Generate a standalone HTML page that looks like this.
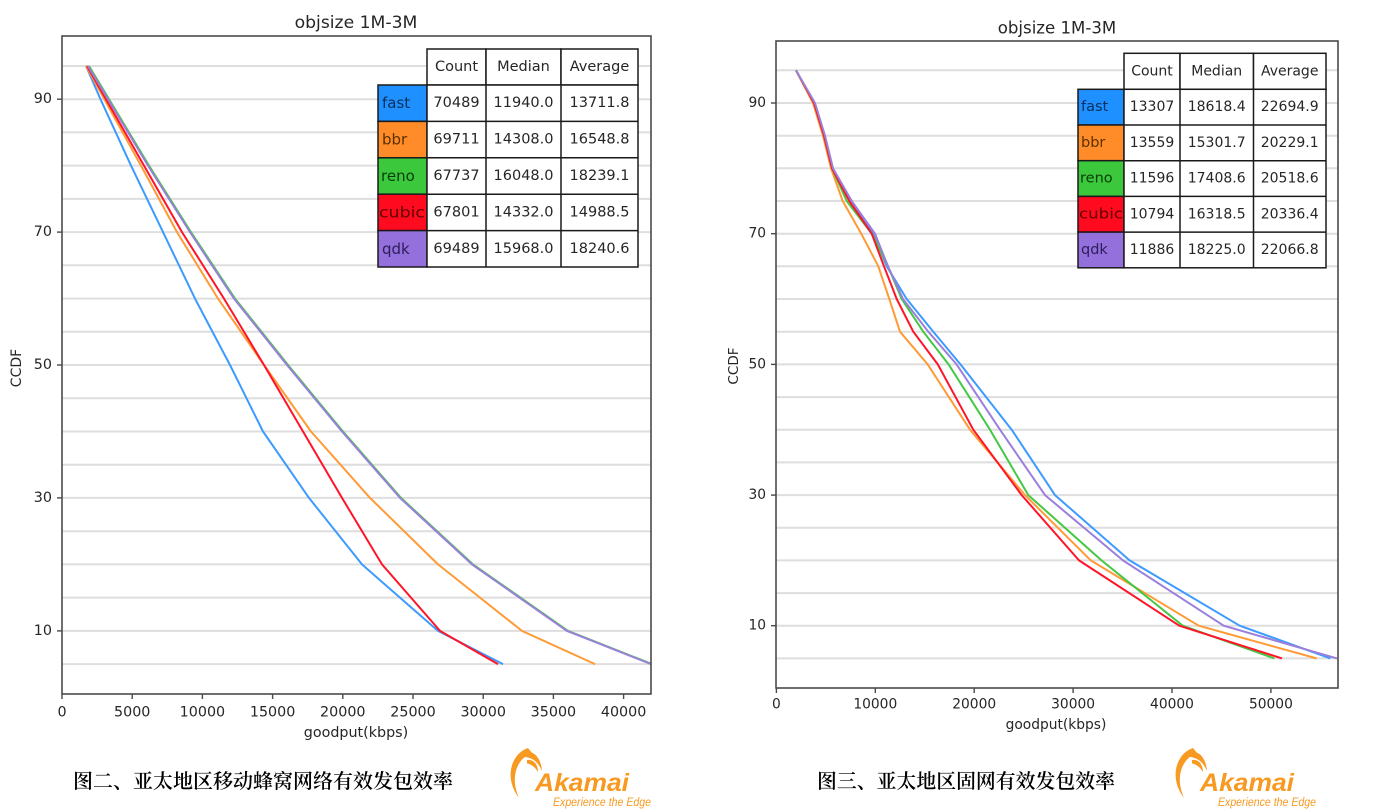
<!DOCTYPE html>
<html>
<head>
<meta charset="utf-8">
<style>
  html,body{margin:0;padding:0;background:#fff;}
  svg{display:block;}
  .t{font-family:"DejaVu Sans","Liberation Sans",sans-serif;fill:#262626;}
  .cap{font-family:"Liberation Serif","Noto Serif CJK SC","Noto Sans CJK SC",serif;fill:#000;}
  .ak{font-family:"Liberation Sans",sans-serif;font-style:italic;fill:#f89a22;}
</style>
</head>
<body>
<svg width="1377" height="809" viewBox="0 0 1377 809" xmlns="http://www.w3.org/2000/svg">
  <defs>
    <clipPath id="cl"><rect x="62" y="36" width="589" height="658"/></clipPath>
    <clipPath id="cr"><rect x="776" y="41" width="562" height="647"/></clipPath>
  </defs>
  <rect width="1377" height="809" fill="#fff"/>

  <!-- ================= LEFT CHART ================= -->
  <text class="t" x="356" y="23" font-size="17.2" text-anchor="middle" dominant-baseline="central">objsize 1M-3M</text>
  <g stroke="#dedede" stroke-width="2">
    <line x1="62" x2="651" y1="664.1" y2="664.1"/><line x1="62" x2="651" y1="630.9" y2="630.9"/>
    <line x1="62" x2="651" y1="597.6" y2="597.6"/><line x1="62" x2="651" y1="564.4" y2="564.4"/>
    <line x1="62" x2="651" y1="531.2" y2="531.2"/><line x1="62" x2="651" y1="497.9" y2="497.9"/>
    <line x1="62" x2="651" y1="464.7" y2="464.7"/><line x1="62" x2="651" y1="431.5" y2="431.5"/>
    <line x1="62" x2="651" y1="398.3" y2="398.3"/><line x1="62" x2="651" y1="365.0" y2="365.0"/>
    <line x1="62" x2="651" y1="331.8" y2="331.8"/><line x1="62" x2="651" y1="298.6" y2="298.6"/>
    <line x1="62" x2="651" y1="265.3" y2="265.3"/><line x1="62" x2="651" y1="232.1" y2="232.1"/>
    <line x1="62" x2="651" y1="198.9" y2="198.9"/><line x1="62" x2="651" y1="165.6" y2="165.6"/>
    <line x1="62" x2="651" y1="132.4" y2="132.4"/><line x1="62" x2="651" y1="99.2" y2="99.2"/>
    <line x1="62" x2="651" y1="66.0" y2="66.0"/>
  </g>
  <g clip-path="url(#cl)" fill="none" stroke-width="2" stroke-linejoin="round">
    <polyline stroke="#3d9bff" points="86,66 100.5,99.2 131,165.6 163,232.1 195,298.6 230,365 263,431.5 309,497.9 362,564.4 438,630.9 503,664.1"/>
    <polyline stroke="#ff9a35" points="86,66 104.3,99.2 141,165.6 177,232.1 218,298.6 264,365 311,431.5 370,497.9 438,564.4 522,630.9 595,664.1"/>
    <polyline stroke="#44c844" points="89,66 109,99.2 149,165.6 191,232.1 235,298.6 288,365 343,431.5 401,497.9 473,564.4 568,630.9 652,664.1"/>
    <polyline stroke="#ff1428" points="87,66 106,99.2 144,165.6 182,232.1 224,298.6 264,365 303,431.5 342,497.9 382,564.4 440,630.9 498,664.1"/>
    <polyline stroke="#9a7fdc" points="88,66 108,99.2 148,165.6 190,232.1 234,298.6 287,365 342,431.5 400,497.9 472,564.4 567,630.9 651,664.1"/>
  </g>
  <!-- left table -->
  <g stroke="#1a1a1a" stroke-width="1.5">
    <rect x="427" y="49" width="59" height="36" fill="#fff"/>
    <rect x="486" y="49" width="75" height="36" fill="#fff"/>
    <rect x="561" y="49" width="77" height="36" fill="#fff"/>
    <rect x="378" y="85" width="49" height="36.4" fill="#1e90ff"/>
    <rect x="378" y="121.4" width="49" height="36.4" fill="#ff8c28"/>
    <rect x="378" y="157.8" width="49" height="36.4" fill="#3cc83c"/>
    <rect x="378" y="194.2" width="49" height="36.4" fill="#ff0a1e"/>
    <rect x="378" y="230.6" width="49" height="36.4" fill="#9370db"/>
    <rect x="427" y="85" width="211" height="182" fill="#fff"/>
    <line x1="486" x2="486" y1="85" y2="267"/><line x1="561" x2="561" y1="85" y2="267"/>
    <line x1="427" x2="638" y1="121.4" y2="121.4"/><line x1="427" x2="638" y1="157.8" y2="157.8"/>
    <line x1="427" x2="638" y1="194.2" y2="194.2"/><line x1="427" x2="638" y1="230.6" y2="230.6"/>
  </g>
  <g class="t" font-size="14.5" text-anchor="middle" dominant-baseline="central">
    <text x="456.5" y="67">Count</text><text x="523.5" y="67">Median</text><text x="599.5" y="67">Average</text>
    <text x="456.5" y="103.2">70489</text><text x="523.5" y="103.2">11940.0</text><text x="599.5" y="103.2">13711.8</text>
    <text x="456.5" y="139.6">69711</text><text x="523.5" y="139.6">14308.0</text><text x="599.5" y="139.6">16548.8</text>
    <text x="456.5" y="176">67737</text><text x="523.5" y="176">16048.0</text><text x="599.5" y="176">18239.1</text>
    <text x="456.5" y="212.4">67801</text><text x="523.5" y="212.4">14332.0</text><text x="599.5" y="212.4">14988.5</text>
    <text x="456.5" y="248.8">69489</text><text x="523.5" y="248.8">15968.0</text><text x="599.5" y="248.8">18240.6</text>
  </g>
  <g font-family="DejaVu Sans, sans-serif" font-size="15" dominant-baseline="central">
    <text x="382" y="103.2" fill="#0a2f5c">fast</text>
    <text x="382" y="139.6" fill="#5c3000">bbr</text>
    <text x="381" y="176" fill="#0a3d0a">reno</text>
    <text x="379" y="212.4" fill="#600000" textLength="46" lengthAdjust="spacingAndGlyphs">cubic</text>
    <text x="382" y="248.8" fill="#2d1d5a">qdk</text>
  </g>
  <!-- left axes -->
  <rect x="62" y="36" width="589" height="658" fill="none" stroke="#4a4a4a" stroke-width="1.6"/>
  <g stroke="#4a4a4a" stroke-width="1.4">
    <line x1="57" x2="62" y1="99.2" y2="99.2"/><line x1="57" x2="62" y1="232.1" y2="232.1"/>
    <line x1="57" x2="62" y1="365" y2="365"/><line x1="57" x2="62" y1="497.9" y2="497.9"/>
    <line x1="57" x2="62" y1="630.9" y2="630.9"/>
    <line x1="62" x2="62" y1="694" y2="699"/><line x1="132.2" x2="132.2" y1="694" y2="699"/>
    <line x1="202.4" x2="202.4" y1="694" y2="699"/><line x1="272.6" x2="272.6" y1="694" y2="699"/>
    <line x1="342.8" x2="342.8" y1="694" y2="699"/><line x1="413" x2="413" y1="694" y2="699"/>
    <line x1="483.2" x2="483.2" y1="694" y2="699"/><line x1="553.4" x2="553.4" y1="694" y2="699"/>
    <line x1="623.6" x2="623.6" y1="694" y2="699"/>
  </g>
  <g class="t" font-size="14.3" text-anchor="end" dominant-baseline="central">
    <text x="52" y="99.2">90</text><text x="52" y="232.1">70</text><text x="52" y="365">50</text>
    <text x="52" y="497.9">30</text><text x="52" y="630.9">10</text>
  </g>
  <g class="t" font-size="14.3" text-anchor="middle" dominant-baseline="central">
    <text x="62" y="712.5">0</text><text x="132.2" y="712.5">5000</text><text x="202.4" y="712.5">10000</text>
    <text x="272.6" y="712.5">15000</text><text x="342.8" y="712.5">20000</text><text x="413" y="712.5">25000</text>
    <text x="483.2" y="712.5">30000</text><text x="553.4" y="712.5">35000</text><text x="623.6" y="712.5">40000</text>
    <text x="356" y="733">goodput(kbps)</text>
  </g>
  <text class="t" font-size="14" text-anchor="middle" dominant-baseline="central" transform="translate(17,368) rotate(-90)">CCDF</text>

  <!-- ================= RIGHT CHART ================= -->
  <text class="t" x="1057" y="28" font-size="16.6" text-anchor="middle" dominant-baseline="central">objsize 1M-3M</text>
  <g stroke="#dedede" stroke-width="2">
    <line x1="776" x2="1338" y1="658.4" y2="658.4"/><line x1="776" x2="1338" y1="625.7" y2="625.7"/>
    <line x1="776" x2="1338" y1="593.1" y2="593.1"/><line x1="776" x2="1338" y1="560.4" y2="560.4"/>
    <line x1="776" x2="1338" y1="527.7" y2="527.7"/><line x1="776" x2="1338" y1="495.1" y2="495.1"/>
    <line x1="776" x2="1338" y1="462.4" y2="462.4"/><line x1="776" x2="1338" y1="429.7" y2="429.7"/>
    <line x1="776" x2="1338" y1="397.1" y2="397.1"/><line x1="776" x2="1338" y1="364.4" y2="364.4"/>
    <line x1="776" x2="1338" y1="331.7" y2="331.7"/><line x1="776" x2="1338" y1="299.0" y2="299.0"/>
    <line x1="776" x2="1338" y1="266.3" y2="266.3"/><line x1="776" x2="1338" y1="233.7" y2="233.7"/>
    <line x1="776" x2="1338" y1="201.0" y2="201.0"/><line x1="776" x2="1338" y1="168.3" y2="168.3"/>
    <line x1="776" x2="1338" y1="135.7" y2="135.7"/><line x1="776" x2="1338" y1="103.0" y2="103.0"/>
    <line x1="776" x2="1338" y1="70.3" y2="70.3"/>
  </g>
  <g clip-path="url(#cr)" fill="none" stroke-width="2" stroke-linejoin="round">
    <polyline stroke="#3d9bff" points="796,70.3 814,103 824,135.7 832,168.3 851.7,201 873,233.7 886.7,266.3 906.7,299 933.3,331.7 960.5,364.4 1011.7,429.7 1055,495.1 1129.6,560.4 1239.7,625.7 1330.4,658.4"/>
    <polyline stroke="#ff9a35" points="796,70.3 813,103 823,135.7 831,168.3 842.7,201 861.3,233.7 878.3,266.3 889.3,299 900,331.7 927.7,364.4 970,429.7 1025,495.1 1090.8,560.4 1198.7,625.7 1316.6,658.4"/>
    <polyline stroke="#44c844" points="796,70.3 814,103 824,135.7 832,168.3 846.7,201 871.7,233.7 888,266.3 901.7,299 923.3,331.7 948.6,364.4 990,429.7 1028.3,495.1 1101.5,560.4 1182.7,625.7 1274.3,658.4"/>
    <polyline stroke="#ff1428" points="796,70.3 814,103 824,135.7 832,168.3 849.3,201 871.7,233.7 884,266.3 896.7,299 913.3,331.7 937.8,364.4 973.3,429.7 1021.7,495.1 1079,560.4 1179.3,625.7 1282,658.4"/>
    <polyline stroke="#9a7fdc" points="796,70.3 815,103 825,135.7 833,168.3 851.7,201 875,233.7 888,266.3 903,299 928.3,331.7 956.6,364.4 1000,429.7 1045,495.1 1123,560.4 1223.7,625.7 1337,658.4"/>
  </g>
  <!-- right table -->
  <g stroke="#1a1a1a" stroke-width="1.5">
    <rect x="1124" y="53.3" width="56" height="36" fill="#fff"/>
    <rect x="1180" y="53.3" width="73.5" height="36" fill="#fff"/>
    <rect x="1253.5" y="53.3" width="72.5" height="36" fill="#fff"/>
    <rect x="1078" y="89.3" width="46" height="35.7" fill="#1e90ff"/>
    <rect x="1078" y="125" width="46" height="35.7" fill="#ff8c28"/>
    <rect x="1078" y="160.7" width="46" height="35.7" fill="#3cc83c"/>
    <rect x="1078" y="196.4" width="46" height="35.7" fill="#ff0a1e"/>
    <rect x="1078" y="232.1" width="46" height="35.7" fill="#9370db"/>
    <rect x="1124" y="89.3" width="202" height="178.5" fill="#fff"/>
    <line x1="1180" x2="1180" y1="89.3" y2="267.8"/><line x1="1253.5" x2="1253.5" y1="89.3" y2="267.8"/>
    <line x1="1124" x2="1326" y1="125" y2="125"/><line x1="1124" x2="1326" y1="160.7" y2="160.7"/>
    <line x1="1124" x2="1326" y1="196.4" y2="196.4"/><line x1="1124" x2="1326" y1="232.1" y2="232.1"/>
  </g>
  <g class="t" font-size="14" text-anchor="middle" dominant-baseline="central">
    <text x="1152" y="71.3">Count</text><text x="1216.7" y="71.3">Median</text><text x="1289.7" y="71.3">Average</text>
    <text x="1152" y="107.2">13307</text><text x="1216.7" y="107.2">18618.4</text><text x="1289.7" y="107.2">22694.9</text>
    <text x="1152" y="142.9">13559</text><text x="1216.7" y="142.9">15301.7</text><text x="1289.7" y="142.9">20229.1</text>
    <text x="1152" y="178.6">11596</text><text x="1216.7" y="178.6">17408.6</text><text x="1289.7" y="178.6">20518.6</text>
    <text x="1152" y="214.3">10794</text><text x="1216.7" y="214.3">16318.5</text><text x="1289.7" y="214.3">20336.4</text>
    <text x="1152" y="250">11886</text><text x="1216.7" y="250">18225.0</text><text x="1289.7" y="250">22066.8</text>
  </g>
  <g font-family="DejaVu Sans, sans-serif" font-size="14.5" dominant-baseline="central">
    <text x="1081" y="107.2" fill="#0a2f5c">fast</text>
    <text x="1081" y="142.9" fill="#5c3000">bbr</text>
    <text x="1080" y="178.6" fill="#0a3d0a">reno</text>
    <text x="1079" y="214.3" fill="#600000" textLength="44" lengthAdjust="spacingAndGlyphs">cubic</text>
    <text x="1081" y="250" fill="#2d1d5a">qdk</text>
  </g>
  <!-- right axes -->
  <rect x="776" y="41" width="562" height="647" fill="none" stroke="#4a4a4a" stroke-width="1.6"/>
  <g stroke="#4a4a4a" stroke-width="1.4">
    <line x1="771" x2="776" y1="103" y2="103"/><line x1="771" x2="776" y1="233.7" y2="233.7"/>
    <line x1="771" x2="776" y1="364.4" y2="364.4"/><line x1="771" x2="776" y1="495.1" y2="495.1"/>
    <line x1="771" x2="776" y1="625.7" y2="625.7"/>
    <line x1="776.4" x2="776.4" y1="688" y2="693"/><line x1="875.3" x2="875.3" y1="688" y2="693"/>
    <line x1="974.2" x2="974.2" y1="688" y2="693"/><line x1="1073.1" x2="1073.1" y1="688" y2="693"/>
    <line x1="1172" x2="1172" y1="688" y2="693"/><line x1="1270.9" x2="1270.9" y1="688" y2="693"/>
  </g>
  <g class="t" font-size="13.8" text-anchor="end" dominant-baseline="central">
    <text x="766" y="103">90</text><text x="766" y="233.7">70</text><text x="766" y="364.4">50</text>
    <text x="766" y="495.1">30</text><text x="766" y="625.7">10</text>
  </g>
  <g class="t" font-size="13.8" text-anchor="middle" dominant-baseline="central">
    <text x="776.4" y="704.5">0</text><text x="875.3" y="704.5">10000</text><text x="974.2" y="704.5">20000</text>
    <text x="1073.1" y="704.5">30000</text><text x="1172" y="704.5">40000</text><text x="1270.9" y="704.5">50000</text>
    <text x="1056" y="725">goodput(kbps)</text>
  </g>
  <text class="t" font-size="13.6" text-anchor="middle" dominant-baseline="central" transform="translate(734,366) rotate(-90)">CCDF</text>

  <!-- ================= CAPTIONS ================= -->
  <text class="cap" x="73" y="782" font-size="20" font-weight="600" dominant-baseline="central" textLength="380" lengthAdjust="spacingAndGlyphs">图二、亚太地区移动蜂窝网络有效发包效率</text>
  <text class="cap" x="817" y="782" font-size="20" font-weight="600" dominant-baseline="central" textLength="298" lengthAdjust="spacingAndGlyphs">图三、亚太地区固网有效发包效率</text>

  <!-- ================= LOGOS ================= -->
  <g transform="translate(1173,748)">
    <path fill="#f89a22" d="M20 0 C4 5,-5 29,11 50 C2 30,8 11,24 5 Z"/>
    <path fill="#f89a22" d="M17 4 C26 2,33 10,34 23 C30 14,25 10,17 9 Z"/>
    <path fill="#f89a22" d="M19 12 C26 11,30 17,30 24 C27 19,23 16,19 15.5 Z"/>
  </g>
  <text class="ak" x="1200" y="791" font-size="25" font-weight="bold" textLength="94" lengthAdjust="spacingAndGlyphs">Akamai</text>
  <text class="ak" x="1218" y="806" font-size="12" textLength="98" lengthAdjust="spacingAndGlyphs">Experience the Edge</text>

  <g transform="translate(508,748)">
    <path fill="#f89a22" d="M20 0 C4 5,-5 29,11 50 C2 30,8 11,24 5 Z"/>
    <path fill="#f89a22" d="M17 4 C26 2,33 10,34 23 C30 14,25 10,17 9 Z"/>
    <path fill="#f89a22" d="M19 12 C26 11,30 17,30 24 C27 19,23 16,19 15.5 Z"/>
  </g>
  <text class="ak" x="535" y="791" font-size="25" font-weight="bold" textLength="94" lengthAdjust="spacingAndGlyphs">Akamai</text>
  <text class="ak" x="553" y="806" font-size="12" textLength="98" lengthAdjust="spacingAndGlyphs">Experience the Edge</text>
</svg>
</body>
</html>
